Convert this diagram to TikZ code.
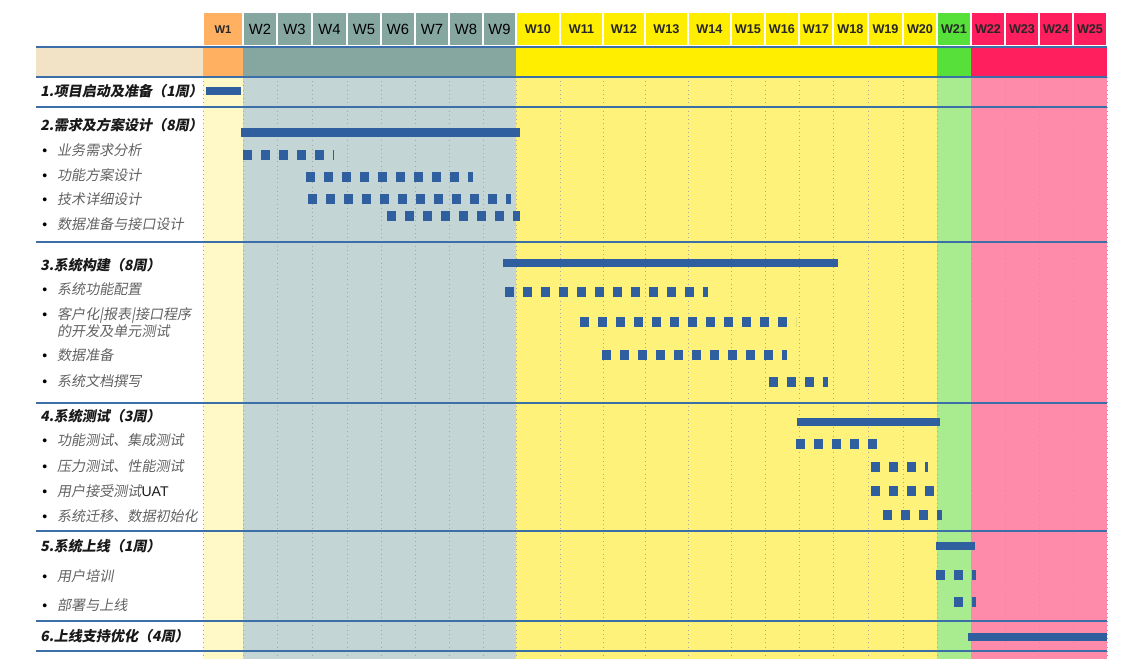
\documentclass[tikz,border=0pt]{standalone}
\usepackage{fontspec}
\setmainfont{Liberation Sans}
\newfontfamily\cjk[FakeSlant=0.18]{Noto Sans CJK SC}
\usepackage{xcolor}

\definecolor{hdrA}{HTML}{FFB061}
\definecolor{hdrB}{HTML}{86A6A0}
\definecolor{hdrC}{HTML}{FFEE00}
\definecolor{hdrD}{HTML}{57DF3A}
\definecolor{hdrE}{HTML}{FF1F5E}
\definecolor{bodyA}{HTML}{FFF9C8}
\definecolor{bodyB}{HTML}{C4D5D5}
\definecolor{bodyC}{HTML}{FFF27A}
\definecolor{bodyD}{HTML}{A9EC8F}
\definecolor{bodyE}{HTML}{FF8BAA}
\definecolor{beige}{HTML}{F2E3C6}
\definecolor{sepblue}{HTML}{3C6FA8}
\definecolor{barblue}{HTML}{2F5F9E}

\newcommand{\bul}{\makebox[12pt][l]{\hspace{1.5pt}\normalfont\color{black}\textbullet}}

\begin{document}
\begin{tikzpicture}[
    x=0.025cm, y=-0.025cm,
    wk/.style={font=\bfseries\fontsize{9}{9}\selectfont, text=black!85},
    wkA/.style={font=\bfseries\fontsize{8}{8}\selectfont, text=black!85},
    wkB/.style={font=\fontsize{10.5}{10.5}\selectfont, text=black},
    task/.style={anchor=west, inner sep=0pt, font=\cjk\bfseries\fontsize{10}{10.5}\selectfont, text=black!90},
    item/.style={anchor=west, inner sep=0pt, align=left, font=\cjk\fontsize{10}{10}\selectfont, text=black!62},
    rowline/.style={draw=sepblue, line width=1.1pt},
    weekline/.style={draw=black!35, line width=0.5pt, dash pattern=on 0.6pt off 2.4pt},
    bar/.style={draw=barblue, line width=6.2pt},
    part/.style={draw=barblue, line width=6.6pt, dash pattern=on 6.6pt off 6.2pt}
]
\useasboundingbox (0,0) rectangle (1144,659);

% Weeks
\fill[beige] (36,47) rectangle (203,77);
\foreach \n/\a/\b/\c/\s in {1/203/243/A/wkA, 2/243/277/B/wkB, 3/277/312/B/wkB,
    4/312/347/B/wkB, 5/347/381/B/wkB, 6/381/415/B/wkB, 7/415/449/B/wkB,
    8/449/483/B/wkB, 9/483/516/B/wkB, 10/516/560/C/wk, 11/560/603/C/wk,
    12/603/645/C/wk, 13/645/688/C/wk, 14/688/731/C/wk, 15/731/765/C/wk,
    16/765/799/C/wk, 17/799/833/C/wk, 18/833/868/C/wk, 19/868/903/C/wk,
    20/903/937/C/wk, 21/937/971/D/wk, 22/971/1005/E/wk, 23/1005/1039/E/wk,
    24/1039/1073/E/wk, 25/1073/1107/E/wk}{
  \fill[hdr\c] (\a,47) rectangle (\b,77);
  \fill[body\c] (\a,77) rectangle (\b,659);
  \draw[fill=hdr\c, draw=white, line width=0.8pt] (\a,12) rectangle (\b,46);
  \node[\s] (w\n) at ({(\a+\b)/2},29.5) {W\n};
}
\foreach \x in {203,243,277,312,347,381,415,449,483,516,560,603,645,688,731,
    765,799,833,868,903,937,971,1005,1039,1073,1107}
  \draw[weekline] (\x,77) -- (\x,659);
\foreach \y in {47,77,107,242,403,531,621,651}
  \draw[rowline] (36,\y) -- (1107,\y);

% Tasks
\node[task] (init) at (40,91) {1.项目启动及准备（1周）};

\node[task] (design) at (40,125) {2.需求及方案设计（8周）};
\node[item] (bizreq) at (40,150) {\bul 业务需求分析};
\node[item] (funcdes) at (40,175) {\bul 功能方案设计};
\node[item] (techdes) at (40,199) {\bul 技术详细设计};
\node[item] (datadif) at (40,224) {\bul 数据准备与接口设计};

\node[task] (build) at (40,265) {3.系统构建（8周）};
\node[item] (config) at (40,289) {\bul 系统功能配置};
\node[item] (custom) at (40,323) {\bul 客户化|报表|接口程序\\\hspace*{12pt}的开发及单元测试};
\node[item] (dataprep) at (40,355) {\bul 数据准备};
\node[item] (docs) at (40,381) {\bul 系统文档撰写};

\node[task] (test) at (40,416) {4.系统测试（3周）};
\node[item] (functest) at (40,440) {\bul 功能测试、集成测试};
\node[item] (perftest) at (40,466) {\bul 压力测试、性能测试};
\node[item] (uat) at (40,491) {\bul 用户接受测试{\normalfont\color{black!90}UAT}};
\node[item] (migrate) at (40,516) {\bul 系统迁移、数据初始化};

\node[task] (golive) at (40,546) {5.系统上线（1周）};
\node[item] (training) at (40,576) {\bul 用户培训};
\node[item] (deploy) at (40,605) {\bul 部署与上线};

\node[task] (support) at (40,636) {6.上线支持优化（4周）};

% Bars
\draw[bar] (206,91) -- (241,91);
\draw[bar] (241,132.5) -- (520,132.5);
\draw[part] (243,155) -- (334,155);
\draw[part] (306,177) -- (473,177);
\draw[part] (308,199) -- (511,199);
\draw[part] (387,216) -- (520,216);

\draw[bar] (503,263) -- (838,263);
\draw[part] (505,292) -- (708,292);
\draw[part] (580,322) -- (796,322);
\draw[part] (602,355) -- (787,355);
\draw[part] (769,382) -- (828,382);

\draw[bar] (797,422) -- (940,422);
\draw[part] (796,444) -- (877,444);
\draw[part] (871,467) -- (928,467);
\draw[part] (871,491) -- (934,491);
\draw[part] (883,515) -- (942,515);

\draw[bar] (936,546) -- (975,546);
\draw[part] (936,575) -- (976,575);
\draw[part] (954,602) -- (976,602);

\draw[bar] (968,637) -- (1107,637);

\end{tikzpicture}
\end{document}
